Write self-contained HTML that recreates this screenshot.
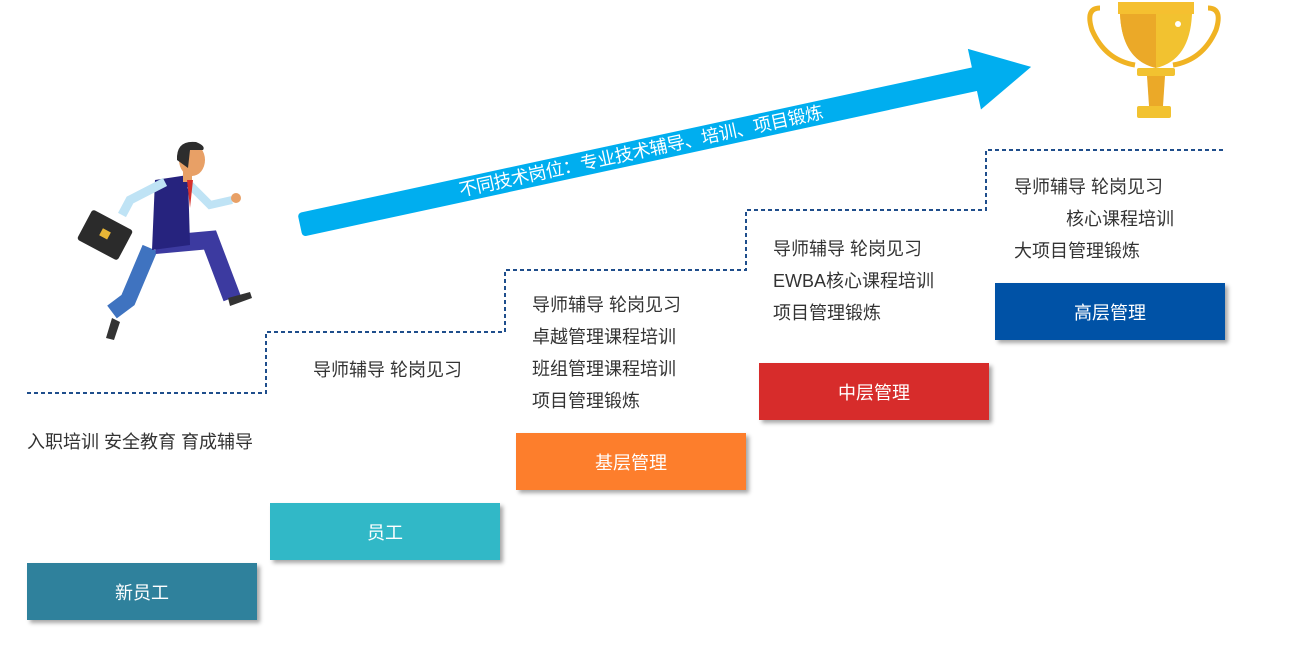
<!DOCTYPE html>
<html><head><meta charset="utf-8"><style>
body{margin:0;width:1300px;height:661px;background:#fff;position:relative;overflow:hidden;font-family:"Liberation Sans","Noto Sans CJK SC",sans-serif}
.b{position:absolute;width:230px;height:57px;color:#fff;font-size:18px;display:flex;align-items:center;justify-content:center;box-shadow:3px 3px 4px rgba(0,0,0,.35)}
.t{position:absolute;font-size:18px;color:#333;line-height:32px;white-space:nowrap}
</style></head><body>
<svg width="1300" height="661" style="position:absolute;left:0;top:0">
<path d="M27 393H266V332H505V270H746V210H986V150H1226" fill="none" stroke="#1f4e8c" stroke-width="2" stroke-dasharray="4,3"/>
<g transform="translate(300,225) rotate(-12.2)">
<rect x="0" y="-12" width="695" height="24" rx="4" fill="#00aeef"/>
<polygon points="690,-31 748,0 690,31" fill="#00aeef"/>
<text x="163" y="6" fill="#fff" font-size="18" letter-spacing="-0.3" font-family="Liberation Sans,Noto Sans CJK SC,sans-serif">不同技术岗位：专业技术辅导、培训、项目锻炼</text>
</g>
<g>
<path d="M1100 8 Q1085 8 1092 30 Q1105 60 1135 65" fill="none" stroke="#f0b323" stroke-width="5"/>
<path d="M1208 8 Q1223 8 1216 30 Q1203 60 1173 65" fill="none" stroke="#f0b323" stroke-width="5"/>
<rect x="1118" y="2" width="76" height="12" fill="#f5c030"/>
<path d="M1120 14H1192Q1190 60 1156 68 1122 60 1120 14Z" fill="#f2c230"/>
<path d="M1120 14H1156V68Q1122 60 1120 14Z" fill="#eba928"/>
<circle cx="1178" cy="24" r="3" fill="#fff"/>
<rect x="1137" y="68" width="38" height="8" rx="2" fill="#f2c230"/>
<path d="M1147 76H1165L1163 106H1149Z" fill="#eba928"/>
<rect x="1137" y="106" width="34" height="12" rx="2" fill="#f2c230"/>
</g>
<g>
<path d="M150 248L128 300 112 312" stroke="#3f73c0" stroke-width="16" fill="none"/>
<path d="M112 318l-6 20 8 2 6-18z" fill="#333"/>
<path d="M155 245L210 240 232 298" stroke="#3c3aa0" stroke-width="18" fill="none"/>
<path d="M228 298l22-6 2 6-22 8z" fill="#333"/>
<path d="M155 180L188 175 190 245 152 250z" fill="#26237e"/>
<path d="M165 182L130 200 122 215" stroke="#bfe3f5" stroke-width="9" fill="none"/>
<path d="M190 185L210 205 232 200" stroke="#bfe3f5" stroke-width="8" fill="none"/>
<circle cx="236" cy="198" r="5" fill="#e8a066"/>
<rect x="183" y="170" width="9" height="12" fill="#e8a066"/>
<path d="M187 180l3 28 3-28z" fill="#d6312c"/>
<ellipse cx="192" cy="160" rx="13" ry="16" fill="#e8a066"/>
<path d="M177 160Q176 140 196 142Q206 146 203 150H190L188 168Z" fill="#2d2d2d"/>
<g transform="rotate(28 105 235)"><rect x="82" y="218" width="46" height="34" rx="3" fill="#2b2b2b"/><rect x="100" y="230" width="9" height="8" fill="#e8b636"/></g>
</g>
</svg>
<div class="b" style="left:27px;top:563px;background:#2f819c">新员工</div>
<div class="b" style="left:270px;top:503px;background:#31b8c7">员工</div>
<div class="b" style="left:516px;top:433px;background:#fd7e2c">基层管理</div>
<div class="b" style="left:759px;top:363px;background:#d72c2b">中层管理</div>
<div class="b" style="left:995px;top:283px;background:#0052a6">高层管理</div>
<div class="t" style="left:27px;top:426px">入职培训 安全教育 育成辅导</div>
<div class="t" style="left:313px;top:354px">导师辅导 轮岗见习</div>
<div class="t" style="left:532px;top:289px">导师辅导 轮岗见习<br>卓越管理课程培训<br>班组管理课程培训<br>项目管理锻炼</div>
<div class="t" style="left:773px;top:233px">导师辅导 轮岗见习<br>EWBA核心课程培训<br>项目管理锻炼</div>
<div class="t" style="left:1014px;top:171px">导师辅导 轮岗见习<br><span style="margin-left:52px">核心课程培训</span><br>大项目管理锻炼</div>
</body></html>
